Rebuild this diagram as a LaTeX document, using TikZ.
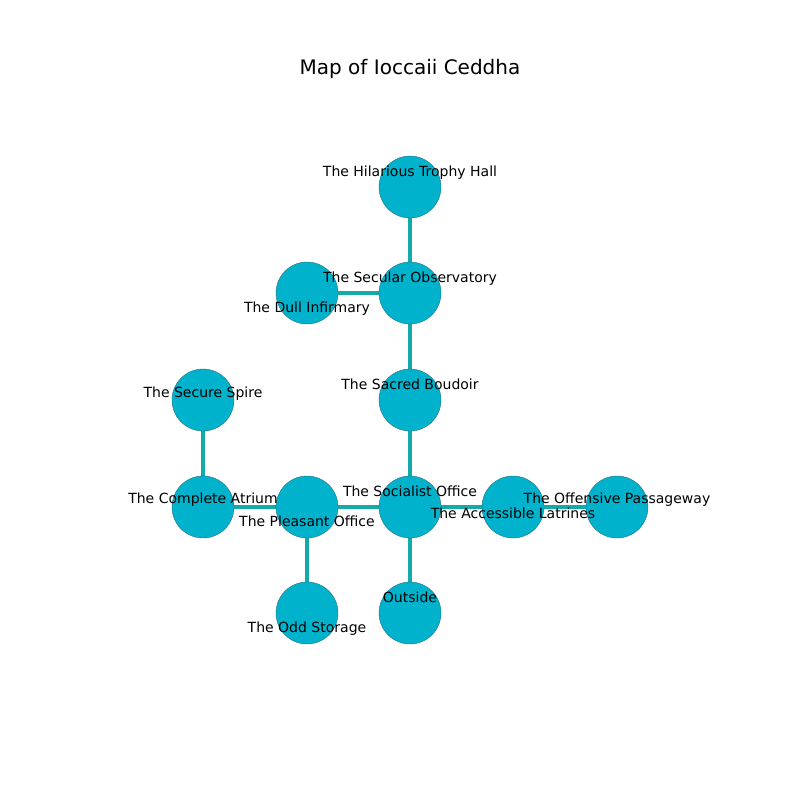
\documentclass[tikz,border=0pt]{standalone}
\usepackage{fontspec}
\setmainfont{DejaVu Sans}
\definecolor{nodefill}{RGB}{0,178,204}
\definecolor{nodeedge}{RGB}{40,110,130}
\definecolor{edgecol}{RGB}{20,170,170}
\begin{document}
\begin{tikzpicture}[x=0.75pt,y=-0.75pt,
  room/.style={circle,fill=nodefill,draw=nodeedge,line width=0.3pt,minimum size=46.5pt,inner sep=0pt},
  lbl/.style={font=\fontsize{10.5pt}{12pt}\selectfont,inner sep=0pt,text height=7.8pt,text depth=2.3pt,anchor=center},
  link/.style={draw=edgecol,line width=3.6pt}]
\useasboundingbox (0,0) rectangle (800,800);
\node[font=\fontsize{15pt}{17pt}\selectfont,inner sep=0pt,text height=11pt,text depth=3.3pt] (title) at (410,69) {Map of Ioccaii Ceddha};
\coordinate (cH) at (410,187);
\coordinate (cSO) at (410,293);
\coordinate (cDI) at (307,293);
\coordinate (cSB) at (410,400);
\coordinate (cSS) at (203,400);
\coordinate (cCA) at (203,507);
\coordinate (cPO) at (307,507);
\coordinate (cSoc) at (410,507);
\coordinate (cAL) at (513,507);
\coordinate (cOP) at (617,507);
\coordinate (cOS) at (307,613);
\coordinate (cOut) at (410,613);
\draw[link] (cH) -- (cSO);
\draw[link] (cSO) -- (cDI);
\draw[link] (cSO) -- (cSB);
\draw[link] (cSB) -- (cSoc);
\draw[link] (cSS) -- (cCA);
\draw[link] (cCA) -- (cPO);
\draw[link] (cPO) -- (cSoc);
\draw[link] (cSoc) -- (cAL);
\draw[link] (cAL) -- (cOP);
\draw[link] (cPO) -- (cOS);
\draw[link] (cSoc) -- (cOut);
\node[room] (H) at (cH) {};
\node[room] (SO) at (cSO) {};
\node[room] (DI) at (cDI) {};
\node[room] (SB) at (cSB) {};
\node[room] (SS) at (cSS) {};
\node[room] (CA) at (cCA) {};
\node[room] (PO) at (cPO) {};
\node[room] (Soc) at (cSoc) {};
\node[room] (AL) at (cAL) {};
\node[room] (OP) at (cOP) {};
\node[room] (OS) at (cOS) {};
\node[room] (Out) at (cOut) {};
\node[lbl] (lH) at (410,173) {The Hilarious Trophy Hall};
\node[lbl] (lSO) at (410,279) {The Secular Observatory};
\node[lbl] (lDI) at (307,309) {The Dull Infirmary};
\node[lbl] (lSB) at (410,386) {The Sacred Boudoir};
\node[lbl] (lSS) at (203,394) {The Secure Spire};
\node[lbl] (lCA) at (203,500) {The Complete Atrium};
\node[lbl] (lPO) at (307,523) {The Pleasant Office};
\node[lbl] (lSoc) at (410,493) {The Socialist Office};
\node[lbl] (lAL) at (513,515) {The Accessible Latrines};
\node[lbl] (lOP) at (617,500) {The Offensive Passageway};
\node[lbl] (lOS) at (307,629) {The Odd Storage};
\node[lbl] (lOut) at (410,599) {Outside};
\end{tikzpicture}
\end{document}
